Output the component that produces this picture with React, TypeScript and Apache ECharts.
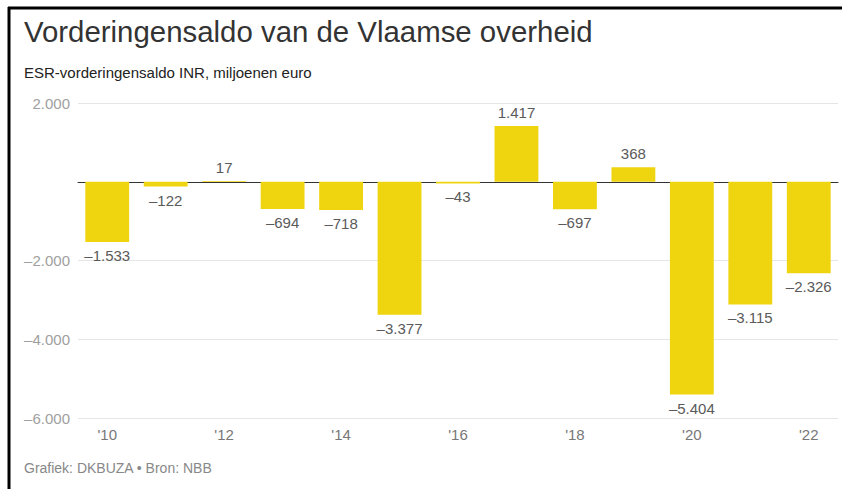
import React, { useEffect, useRef } from "react";
import * as echarts from "echarts";

const years = ["2010", "2011", "2012", "2013", "2014", "2015", "2016", "2017", "2018", "2019", "2020", "2021", "2022"];
const saldo = [-1533, -122, 17, -694, -718, -3377, -43, 1417, -697, 368, -5404, -3115, -2326];
const yTicks = { min: -6000, max: 2000, interval: 2000 };

const titleText = "Vorderingensaldo van de Vlaamse overheid";
const subtitleText = "ESR-vorderingensaldo INR, miljoenen euro";
const sourceText = "Grafiek: DKBUZA \u2022 Bron: NBB";

const FONT = "'Liberation Sans', Arial, Helvetica, sans-serif";

function fmt(v: number): string {
  const abs = Math.abs(v);
  const s = abs.toString().replace(/\B(?=(\d{3})+(?!\d))/g, ".");
  return (v < 0 ? "\u2013" : "") + s;
}

export default function App() {
  const ref = useRef<HTMLDivElement>(null);
  useEffect(() => {
    document.body.style.margin = "0";
    const chart = echarts.init(ref.current!, null, { renderer: "svg" });
    chart.setOption({
      animation: false,
      backgroundColor: "#ffffff",
      graphic: [
        { type: "line", shape: { x1: 9, y1: 7, x2: 9, y2: 489 }, style: { stroke: "#000", lineWidth: 3 } },
        { type: "line", shape: { x1: 8, y1: 8, x2: 842, y2: 8 }, style: { stroke: "#000", lineWidth: 3 } },
        {
          type: "text",
          left: 24,
          top: 17,
          style: { text: titleText, font: `29.4px ${FONT}`, fill: "#333333" },
        },
        {
          type: "text",
          left: 24,
          top: 65,
          style: { text: subtitleText, font: `15px ${FONT}`, fill: "#222222" },
        },
        {
          type: "text",
          left: 24,
          top: 461,
          style: { text: sourceText, font: `14px ${FONT}`, fill: "#888888" },
        },
      ],
      grid: { left: 78, right: 4, top: 103, bottom: 71, containLabel: false },
      xAxis: {
        type: "category",
        data: years,
        axisLine: { show: true, onZero: true, lineStyle: { color: "#333333", width: 1 } },
        axisTick: { show: false },
        axisLabel: {
          interval: 1,
          color: "#777777",
          fontSize: 15,
          fontFamily: FONT,
          margin: 9,
          formatter: (v: string) => "'" + v.slice(2),
        },
        position: "bottom",
      },
      yAxis: {
        type: "value",
        min: yTicks.min,
        max: yTicks.max,
        interval: yTicks.interval,
        axisLine: { show: false },
        axisTick: { show: false },
        splitLine: { lineStyle: { color: "#e6e6e6", width: 1 } },
        axisLabel: {
          color: "#a0a0a0",
          fontSize: 15,
          fontFamily: FONT,
          margin: 8,
          formatter: (v: number) => (v === 0 ? "" : fmt(v)),
        },
      },
      series: [
        {
          type: "bar",
          barCategoryGap: "25%",
          itemStyle: { color: "#efd510" },
          data: saldo.map((v) => ({
            value: v,
            label: {
              show: true,
              position: v >= 0 ? "top" : "bottom",
              distance: 6,
              color: "#5a5a5a",
              fontSize: 15,
              fontFamily: FONT,
              formatter: () => fmt(v),
            },
          })),
        },
      ],
    });
    return () => chart.dispose();
  }, []);
  return <div ref={ref} style={{ position: "fixed", left: 0, top: 0, width: 842, height: 489 }} />;
}
